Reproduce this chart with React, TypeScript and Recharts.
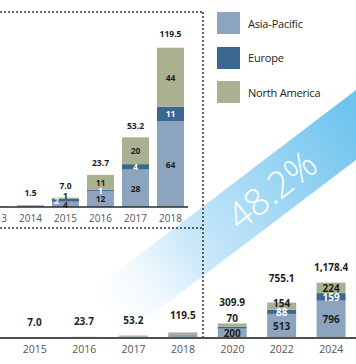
import React from "react";
import { BarChart, Bar, XAxis, YAxis, LabelList } from "recharts";

const FONT = "'Open Sans', 'Noto Sans', sans-serif";

const seriesNames = ["Asia-Pacific", "Europe", "North America"];
const seriesColors = ["#8ca4be", "#3a6790", "#a9b190"];

// inset: 2013-2018 detail
const insetYears = ["2013", "2014", "2015", "2016", "2017", "2018"];
const insetAsiaPacific = [0.3, 0.9, 4, 12, 28, 64];
const insetEurope = [0.1, 0.2, 2, 1, 4, 11];
const insetNorthAmerica = [0.1, 0.4, 1, 11, 20, 44];
const insetTotals = [0.5, 1.5, 7.0, 23.7, 53.2, 119.5];

// main: 2015-2024
const mainYears = ["2015", "2016", "2017", "2018", "2020", "2022", "2024"];
const mainAsiaPacific = [4, 12, 28, 64, 200, 513, 796];
const mainEurope = [2, 1, 4, 11, 40, 88, 159];
const mainNorthAmerica = [1, 11, 20, 44, 70, 154, 224];
const mainTotals = [7.0, 23.7, 53.2, 119.5, 309.9, 755.1, 1178.4];

const growthLabel = "48.2%";

const insetData = insetYears.map((year, i) => ({
  year,
  ap: insetAsiaPacific[i],
  eu: insetEurope[i],
  na: insetNorthAmerica[i],
  total: insetTotals[i],
}));

const mainData = mainYears.map((year, i) => ({
  year,
  ap: mainAsiaPacific[i],
  eu: mainEurope[i],
  na: mainNorthAmerica[i],
  total: mainTotals[i],
}));

// small manual nudges for labels on thin segments
const nudges: Record<string, { dx: number; dy: number }> = {
  "inset-2015-eu": { dx: -9, dy: 0 },
  "inset-2015-na": { dx: 0, dy: -3 },
  "main-2020-na": { dx: 0, dy: -7 },
  "main-2020-eu": { dx: -44, dy: -3 },
  "main-2022-na": { dx: 0, dy: -3 },
};
const totalLift: Record<string, number> = { "2018": 2, "2020": 6, "2022": 9 };

const fmt = (v: number) =>
  v.toLocaleString("en-US", { minimumFractionDigits: 1, maximumFractionDigits: 1 });

function segLabel(chart: string, key: string, data: any[], fill: string, size: number, minTotal: number) {
  return (props: any) => {
    const vb = props.viewBox || props;
    const { x, y, width, height } = vb;
    const row = data[props.index];
    if (!row || row.total < minTotal) return null;
    const n = nudges[`${chart}-${row.year}-${key}`] || { dx: 0, dy: 0 };
    return (
      <text
        x={x + width / 2 + n.dx}
        y={y + height / 2 + n.dy}
        textAnchor="middle"
        dominantBaseline="central"
        fill={fill}
        fontSize={size}
        fontWeight={700}
        fontFamily={FONT}
      >
        {props.value}
      </text>
    );
  };
}

function totalLabel(data: any[], size: number, gap: number) {
  return (props: any) => {
    const vb = props.viewBox || props;
    const { x, y, width } = vb;
    const row = data[props.index];
    if (!row || row.total < 1) return null;
    const lift = totalLift[row.year] || 0;
    return (
      <text
        x={x + width / 2}
        y={y - gap - lift}
        textAnchor="middle"
        dominantBaseline="central"
        fill="#1e1e1e"
        fontSize={size}
        fontWeight={700}
        fontFamily={FONT}
      >
        {fmt(row.total)}
      </text>
    );
  };
}

function Decor() {
  return (
    <svg width={356} height={364} style={{ position: "absolute", left: 0, top: 0 }}>
      <defs>
        <linearGradient id="band" gradientUnits="userSpaceOnUse" x1={90} y1={316} x2={356} y2={120}>
          <stop offset="0" stopColor="#ffffff" stopOpacity={0} />
          <stop offset="0.35" stopColor="#cfeafa" />
          <stop offset="1" stopColor="#6fc4ee" />
        </linearGradient>
      </defs>
      <polygon points="59,316 150,316 356,160 356,90" fill="url(#band)" />
      <text
        x={271}
        y={189}
        transform="rotate(-38 271 189)"
        textAnchor="middle"
        dominantBaseline="central"
        fill="#ffffff"
        fontSize={37}
        fontWeight={300}
        fontFamily={FONT}
      >
        {growthLabel}
      </text>
      <g stroke="#333" strokeWidth={1.5} strokeDasharray="2 2" fill="none">
        <line x1={0} y1={12} x2={203} y2={12} />
        <line x1={0} y1={228} x2={203} y2={228} />
        <line x1={203} y1={12} x2={203} y2={338} />
      </g>
    </svg>
  );
}

function LegendBox() {
  return (
    <div style={{ position: "absolute", left: 217, top: 12 }}>
      {seriesNames.map((name, i) => (
        <div key={name} style={{ display: "flex", alignItems: "center", height: 22, marginBottom: 12.5 }}>
          <div style={{ width: 23, height: 22, background: seriesColors[i] }} />
          <span style={{ marginLeft: 8, fontSize: 11, letterSpacing: -0.2, color: "#222", fontFamily: FONT }}>
            {name}
          </span>
        </div>
      ))}
    </div>
  );
}

export default function App() {
  return (
    <div
      style={{
        position: "fixed",
        left: 0,
        top: 0,
        width: 356,
        height: 364,
        overflow: "hidden",
        background: "#fff",
      }}
    >
      <Decor />
      <LegendBox />

      <div style={{ position: "absolute", left: -22, top: 0 }}>
        <BarChart width={210} height={227} data={insetData} margin={{ top: 27, right: 0, left: 0, bottom: 0 }} barSize={27}>
          <XAxis
            dataKey="year"
            height={20}
            interval={0}
            tickLine={false}
            tickSize={6}
            axisLine={{ stroke: "#2b2b2b", strokeWidth: 1.5 }}
            tick={{ fontSize: 10, fill: "#555", fontFamily: FONT }}
          />
          <YAxis hide domain={[0, 134.4]} />
          <Bar dataKey="ap" stackId="s" fill={seriesColors[0]} isAnimationActive={false}>
            <LabelList dataKey="ap" content={segLabel("inset", "ap", insetData, "#1e1e1e", 8.5, 5)} />
          </Bar>
          <Bar dataKey="eu" stackId="s" fill={seriesColors[1]} isAnimationActive={false}>
            <LabelList dataKey="eu" content={segLabel("inset", "eu", insetData, "#ffffff", 8.5, 5)} />
          </Bar>
          <Bar dataKey="na" stackId="s" fill={seriesColors[2]} isAnimationActive={false}>
            <LabelList dataKey="na" content={segLabel("inset", "na", insetData, "#1e1e1e", 8.5, 5)} />
            <LabelList dataKey="total" content={totalLabel(insetData, 8.5, 12)} />
          </Bar>
        </BarChart>
      </div>

      <div style={{ position: "absolute", left: 0, top: 0 }}>
        <BarChart width={356} height={364} data={mainData} margin={{ top: 238, right: 0, left: 0, bottom: 0 }} barSize={29}>
          <XAxis
            dataKey="year"
            height={26}
            interval={0}
            padding={{ left: 10, right: 0 }}
            tickLine={false}
            axisLine={{ stroke: "#505050", strokeWidth: 2 }}
            tick={{ fontSize: 10.5, fill: "#555", fontFamily: FONT }}
          />
          <YAxis hide domain={[0, 2128]} />
          <Bar dataKey="ap" stackId="s" fill={seriesColors[0]} isAnimationActive={false}>
            <LabelList dataKey="ap" content={segLabel("main", "ap", mainData, "#1e1e1e", 10, 200)} />
          </Bar>
          <Bar dataKey="eu" stackId="s" fill={seriesColors[1]} isAnimationActive={false}>
            <LabelList dataKey="eu" content={segLabel("main", "eu", mainData, "#ffffff", 10, 200)} />
          </Bar>
          <Bar dataKey="na" stackId="s" fill={seriesColors[2]} isAnimationActive={false}>
            <LabelList dataKey="na" content={segLabel("main", "na", mainData, "#1e1e1e", 10, 200)} />
            <LabelList dataKey="total" content={totalLabel(mainData, 10, 15.5)} />
          </Bar>
        </BarChart>
      </div>
    </div>
  );
}
